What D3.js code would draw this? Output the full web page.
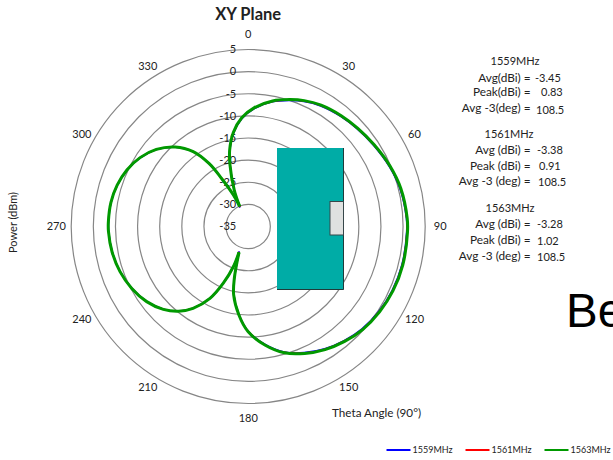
<!DOCTYPE html>
<html>
<head>
<meta charset="utf-8">
<script src="https://cdn.jsdelivr.net/npm/d3@7"></script>
<style>
  html, body { margin: 0; background: #fff; }
  svg { display: block; font-family: Lato, "Open Sans", sans-serif; fill: #222; }
</style>
</head>
<body>
<div class="canvas"></div>
<script>
const ringValues = [-35, -30, -25, -20, -15, -10, -5, 0, 5];
const angleLabels = [0, 30, 60, 90, 120, 150, 180, 210, 240, 270, 300, 330];

// one sweep round the plane, starts and ends on the upper null
const theta = [-23, -21, -16.5, -13.6, -9, -3.4, 3, 11, 18, 24, 31, 40, 48, 57, 67, 76, 87, 92, 104, 114, 123, 132, 140, 148, 156, 164, 172, 180, 186, 192, 195, 199.6,
  200.3, 203.7, 208, 214, 219.5, 225.7, 233.5, 242, 250.6, 259.5, 268, 272, 280, 287.5, 295, 302.5, 310, 317.4, 323.7, 328.2, 331, 334.7, 337];
const power1559 = [-30.3, -26.3, -20.6, -17.3, -13.7, -10.6, -8.3, -6.3, -5.05, -4.06, -3.2, -2.5, -1.95, -1.25, -0.35, 0.35, 0.8, 0.83, 0.8, 0.6, 0.2, -0.4, -1.3, -2.4, -3.8, -5.5, -8.15, -11.35, -15, -19.3, -23, -29,
  -25.35, -21.05, -16.65, -12.75, -10.25, -8.25, -6.5, -5.25, -4.33, -3.75, -3.45, -3.43, -3.55, -4, -4.8, -6.08, -7.95, -10.65, -14.05, -18.35, -22.65, -27.1, -30.3];
const power1561 = [-30.2, -26.25, -20.55, -17.25, -13.6, -10.5, -8.2, -6.2, -4.95, -3.96, -3.1, -2.4, -1.85, -1.15, -0.25, 0.45, 0.88, 0.91, 0.9, 0.7, 0.3, -0.3, -1.2, -2.3, -3.7, -5.4, -8.05, -11.3, -14.95, -19.25, -22.95, -28.9,
  -25.3, -21, -16.6, -12.7, -10.2, -8.2, -6.46, -5.2, -4.29, -3.7, -3.4, -3.38, -3.5, -3.95, -4.75, -6.03, -7.9, -10.6, -14, -18.3, -22.6, -27.05, -30.2];
const power1563 = [-30.1, -26.2, -20.5, -17.2, -13.5, -10.4, -8.1, -6.1, -4.85, -3.86, -3, -2.3, -1.75, -1.05, -0.15, 0.55, 0.98, 1.02, 1, 0.8, 0.4, -0.2, -1.1, -2.2, -3.6, -5.3, -7.95, -11.2, -14.9, -19.2, -22.9, -28.8,
  -25.3, -21, -16.6, -12.7, -10.2, -8.2, -6.46, -5.2, -4.29, -3.7, -3.4, -3.38, -3.5, -3.95, -4.75, -6.03, -7.9, -10.6, -14, -18.3, -22.6, -27, -30.1];

const seriesNames = ["1559MHz", "1561MHz", "1563MHz"];
const seriesColors = ["#0000ff", "#ff0000", "#009900"];
const seriesValues = [power1559, power1561, power1563];

const statHeads = ["1559MHz", "1561MHz", "1563MHz"];
const statKeys = [
  ["Avg(dBi) =", "Peak(dBi) =", "Avg -3(deg) ="],
  ["Avg (dBi) =", "Peak (dBi) =", "Avg -3 (deg) ="],
  ["Avg (dBi) =", "Peak (dBi) =", "Avg -3 (deg) ="],
];
const statValues = [
  ["-3.45", "0.83", "108.5"],
  ["-3.38", "0.91", "108.5"],
  ["-3.28", "1.02", "108.5"],
];

const width = 613;
const height = 460;
const cx = 248.2;
const cy = 226.5;

const svg = d3.select(".canvas").append("svg").attr("width", width).attr("height", height);

const r = d3.scaleLinear().domain([-35, 5]).range([0, 177]);

svg.append("text").text("XY Plane")
  .attr("x", cx).attr("y", 20)
  .attr("text-anchor", "middle").attr("font-size", 16.5).attr("font-weight", 700);

const chart = svg.append("g").attr("transform", `translate(${cx}, ${cy})`);

chart.selectAll("circle")
  .data(ringValues.slice(1))
  .enter()
  .append("circle")
  .attr("r", (d) => r(d))
  .attr("fill", "none")
  .attr("stroke", "#868686")
  .attr("stroke-width", 1.2);

// antenna drawing sits on top of the rings
svg.append("rect").attr("x", 277).attr("y", 148).attr("width", 67).attr("height", 141.5)
  .attr("fill", "#00aca6");
svg.append("path").attr("d", "M343.5 148V289.5H277").attr("fill", "none").attr("stroke", "#1f3b3a").attr("stroke-width", 1);
svg.append("rect").attr("x", 330).attr("y", 201.5).attr("width", 13.5).attr("height", 33.5)
  .attr("fill", "#dfe1e0").attr("stroke", "#37474a").attr("stroke-width", 1);

chart.selectAll(".ring-label")
  .data(ringValues)
  .enter()
  .append("text")
  .attr("class", "ring-label")
  .text((d) => d)
  .attr("x", -12)
  .attr("y", (d) => -r(d))
  .attr("dy", "0.35em")
  .attr("text-anchor", "end")
  .attr("font-size", 11);

chart.selectAll(".angle-label")
  .data(angleLabels)
  .enter()
  .append("text")
  .attr("class", "angle-label")
  .text((d) => d)
  .attr("x", (d) => Math.sin((d * Math.PI) / 180) * ([30, 150, 210, 330].includes(d) ? 201 : 192))
  .attr("y", (d) => -Math.cos((d * Math.PI) / 180) * (d % 180 === 0 ? 192 : 185))
  .attr("dy", "0.35em")
  .attr("text-anchor", "middle")
  .attr("font-size", 11);

const line = d3.lineRadial()
  .angle((d) => (d[0] * Math.PI) / 180)
  .radius((d) => r(d[1]))
  .curve(d3.curveCatmullRom.alpha(0.5));

const nullIndex = theta.indexOf(199.6);

seriesValues.forEach((values, i) => {
  const pts = theta.map((t, j) => [t, values[j]]);
  [pts.slice(0, nullIndex + 1), pts.slice(nullIndex)].forEach((lobe) => {
    chart.append("path")
      .attr("d", line(lobe))
      .attr("fill", "none")
      .attr("stroke", seriesColors[i])
      .attr("stroke-width", i === 2 ? 3 : 1.6);
  });
});

// stats block, each group is placed by hand like the text boxes in the original
const statHeadX = [515, 509, 510];
const statHeadY = [61, 134, 208];
const statRowY = [
  [78, 92, 108],
  [150, 166, 181],
  [224, 240, 256],
];
const statValueX = [
  [535, 541, 536],
  [537, 539, 538],
  [537, 537, 537],
];
const statValueY = [
  [78, 92, 110],
  [150, 166, 182],
  [224, 241, 257],
];

const stats = svg.append("g").attr("font-size", 11);
statHeads.forEach((head, g) => {
  stats.append("text").text(head)
    .attr("x", statHeadX[g]).attr("y", statHeadY[g]).attr("dy", "0.35em").attr("text-anchor", "middle");
  statKeys[g].forEach((key, k) => {
    stats.append("text").text(key)
      .attr("x", 530.5).attr("y", statRowY[g][k]).attr("dy", "0.35em").attr("text-anchor", "end")
      .attr("font-size", 11.8);
    stats.append("text").text(statValues[g][k])
      .attr("x", statValueX[g][k]).attr("y", statValueY[g][k]).attr("dy", "0.35em");
  });
});

svg.append("text").text("Be")
  .attr("x", 566).attr("y", 327)
  .attr("font-family", '"Liberation Sans", sans-serif')
  .attr("font-size", 47.5)
  .attr("fill", "#000");

svg.append("text").text("Power (dBm)")
  .attr("transform", "translate(13, 222.5) rotate(-90)")
  .attr("dy", "0.35em")
  .attr("text-anchor", "middle")
  .attr("font-size", 11);

svg.append("text").text("Theta Angle (90°)")
  .attr("x", 332).attr("y", 413)
  .attr("dy", "0.35em")
  .attr("font-size", 11.7);

const legendX = d3.scalePoint().domain(seriesNames).range([386.5, 544.5]);
const legend = svg.append("g").selectAll("g")
  .data(seriesNames)
  .enter()
  .append("g")
  .attr("transform", (d) => `translate(${legendX(d)}, 450)`);

legend.append("line")
  .attr("x2", 24)
  .attr("stroke", (d, i) => seriesColors[i])
  .attr("stroke-width", 2);

legend.append("text")
  .text((d) => d)
  .attr("x", 26)
  .attr("dy", "0.35em")
  .attr("font-size", 9);
</script>
</body>
</html>
